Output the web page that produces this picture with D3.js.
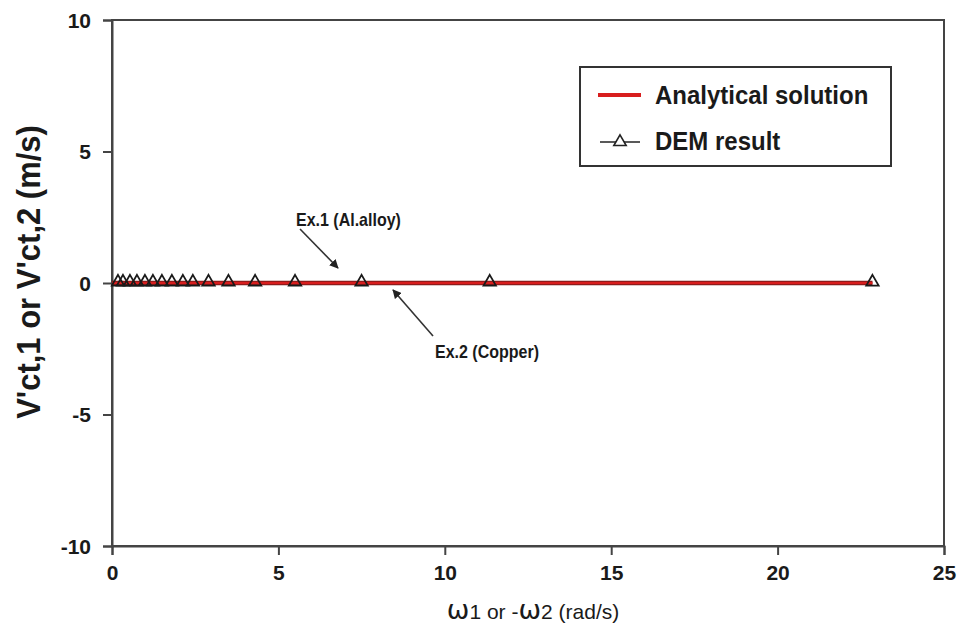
<!DOCTYPE html>
<html>
<head>
<meta charset="utf-8">
<script src="https://cdn.jsdelivr.net/npm/d3@7"></script>
<style>
  html, body { margin: 0; padding: 0; background: #fff; }
  svg { display: block; font-family: "Liberation Sans", Arial, sans-serif; }
</style>
</head>
<body>
<svg id="chart" width="959" height="632"></svg>
<script>
// Angular velocity values (rad/s) of the DEM runs
const demOmega = [0.18, 0.33, 0.54, 0.75, 0.99, 1.23, 1.5, 1.8, 2.13, 2.43, 2.9, 3.5, 4.3, 5.5, 7.5, 11.35, 22.85];
// Tangential contact velocity V'ct from DEM (m/s)
const demV = [0, 0, 0, 0, 0, 0, 0, 0, 0, 0, 0, 0, 0, 0, 0, 0, 0];
// Analytical solution endpoints
const anaOmega = [0, 22.85];
const anaV = [0, 0];

const xTicks = [0, 5, 10, 15, 20, 25];
const yTicks = [-10, -5, 0, 5, 10];

const margin = { left: 112, right: 15, top: 20, bottom: 86 };
const W = 959, H = 632;
const svg = d3.select("#chart");

const x = d3.scaleLinear().domain([0, 25]).range([margin.left, W - margin.right]);
const y = d3.scaleLinear().domain([-10, 10]).range([H - margin.bottom, margin.top]);

const axisColor = "#444";
const textColor = "#1a1a1a";

// plot frame
svg.append("rect")
  .attr("x", x(0)).attr("y", y(10))
  .attr("width", x(25) - x(0)).attr("height", y(-10) - y(10))
  .attr("fill", "none").attr("stroke", axisColor).attr("stroke-width", 2);

// axes (plain hyphen for negative numbers)
const fmt = d => String(d);
const xAxis = svg.append("g")
  .attr("transform", `translate(0,${y(-10)})`)
  .call(d3.axisBottom(x).tickValues(xTicks).tickSize(9).tickPadding(7).tickFormat(fmt));
const yAxis = svg.append("g")
  .attr("transform", `translate(${x(0)},0)`)
  .call(d3.axisLeft(y).tickValues(yTicks).tickSize(9).tickPadding(12).tickFormat(fmt));

[xAxis, yAxis].forEach(g => {
  g.select(".domain").attr("stroke", axisColor).attr("stroke-width", 2);
  g.selectAll(".tick line").attr("stroke", axisColor).attr("stroke-width", 2);
  g.selectAll(".tick text")
    .attr("fill", textColor)
    .style("font-size", "21px")
    .style("font-weight", "bold")
    .style("font-family", "'Liberation Sans', Arial, sans-serif");
});
xAxis.selectAll(".tick text").attr("dy", "0.85em");
yAxis.selectAll(".tick text").attr("dy", "0.35em");

// analytical solution
const line = d3.line().x(d => x(d[0])).y(d => y(d[1]));
svg.append("path")
  .datum(d3.zip(anaOmega, anaV))
  .attr("d", line)
  .attr("fill", "none")
  .attr("stroke", "#7a1a1a")
  .attr("stroke-width", 4.5);
svg.append("path")
  .datum(d3.zip(anaOmega, anaV))
  .attr("d", line)
  .attr("fill", "none")
  .attr("stroke", "#d81e1e")
  .attr("stroke-width", 2.5);

// DEM markers (open triangles)
const tri = d3.symbol().type(d3.symbolTriangle).size(66);
svg.append("g")
  .selectAll("path")
  .data(d3.zip(demOmega, demV))
  .join("path")
  .attr("d", tri)
  .attr("transform", d => `translate(${x(d[0])},${y(d[1]) - 1})`)
  .attr("fill", "none")
  .attr("stroke", textColor)
  .attr("stroke-width", 1.8);

// annotations
const annText = (tx, ty, s) => svg.append("text")
  .attr("transform", `translate(${tx},${ty}) scale(1,1.15)`)
  .style("font-size", "16px").style("font-weight", "bold").attr("fill", textColor)
  .text(s);
annText(296, 226, "Ex.1 (Al.alloy)");
annText(435, 358, "Ex.2 (Copper)");

svg.append("defs").append("marker")
  .attr("id", "arrow").attr("viewBox", "0 0 10 10")
  .attr("refX", 9).attr("refY", 5)
  .attr("markerWidth", 9).attr("markerHeight", 9)
  .attr("markerUnits", "userSpaceOnUse")
  .attr("orient", "auto")
  .append("path").attr("d", "M0,0 L10,5 L0,10 Z").attr("fill", "#222");

svg.append("line")
  .attr("x1", 300).attr("y1", 229).attr("x2", 338).attr("y2", 268)
  .attr("stroke", "#333").attr("stroke-width", 1.6).attr("marker-end", "url(#arrow)");
svg.append("line")
  .attr("x1", 433).attr("y1", 336).attr("x2", 393).attr("y2", 290)
  .attr("stroke", "#333").attr("stroke-width", 1.6).attr("marker-end", "url(#arrow)");

// legend
const lg = svg.append("g");
lg.append("rect")
  .attr("x", 580).attr("y", 67).attr("width", 311).attr("height", 99)
  .attr("fill", "#fff").attr("stroke", "#333").attr("stroke-width", 2);
lg.append("line").attr("x1", 598).attr("x2", 641).attr("y1", 95).attr("y2", 95)
  .attr("stroke", "#d81e1e").attr("stroke-width", 4);
lg.append("line").attr("x1", 600).attr("x2", 640).attr("y1", 142).attr("y2", 142)
  .attr("stroke", "#222").attr("stroke-width", 1.5);
lg.append("path").attr("d", tri)
  .attr("transform", "translate(620,142)")
  .attr("fill", "#fff").attr("stroke", "#222").attr("stroke-width", 1.6);
lg.append("text").attr("transform", "translate(655,104) scale(1,1.1)")
  .style("font-size", "24px").style("font-weight", "bold").attr("fill", textColor)
  .text("Analytical solution");
lg.append("text").attr("transform", "translate(655,150) scale(1,1.1)")
  .style("font-size", "24px").style("font-weight", "bold").attr("fill", textColor)
  .text("DEM result");

// axis titles
svg.append("text")
  .attr("transform", `translate(40,272) rotate(-90) scale(1,1.1)`)
  .attr("text-anchor", "middle")
  .style("font-size", "31px").style("font-weight", "bold").attr("fill", textColor)
  .text("V'ct,1 or V'ct,2  (m/s)");

const xt = svg.append("text")
  .attr("x", 533).attr("y", 619)
  .attr("text-anchor", "middle")
  .style("font-size", "23px").attr("fill", textColor);
xt.append("tspan").style("font-family", "'DejaVu Sans', sans-serif").style("font-size", "27px").text("ω");
xt.append("tspan").style("font-size", "21px").text("1 or -");
xt.append("tspan").style("font-family", "'DejaVu Sans', sans-serif").style("font-size", "27px").text("ω");
xt.append("tspan").style("font-size", "21px").text("2 (rad/s)");
</script>
</body>
</html>
